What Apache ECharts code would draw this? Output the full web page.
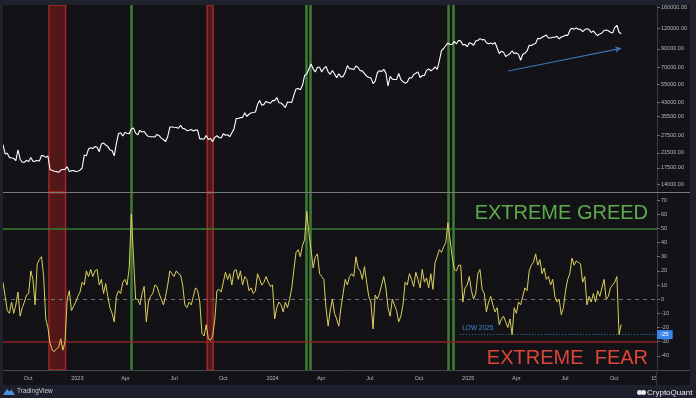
<!DOCTYPE html>
<html><head><meta charset="utf-8">
<script src="https://cdn.jsdelivr.net/npm/echarts@6/dist/echarts.min.js"></script>
<style>html,body{margin:0;padding:0;background:#131317;}#c{width:696px;height:398px;}</style>
</head><body><div id="c"></div>
<script>
// ---- data (sampled every 4 days from 2022-08-15) ----
const startDate = [2022, 7, 15];
const stepDays = 4;
const btcPrice = [
24100,21200,21400,20200,20050,19950,19300,22400,19700,18900,
18900,19400,19050,20150,19130,19180,19330,19200,20750,20630,
20200,20600,17050,16900,16700,16600,16450,16960,17100,17130,
17780,16630,16830,16840,16630,16680,16950,17450,20880,20680,
22700,23070,22840,23430,23250,21860,24330,24640,23940,23500,
22360,22200,20630,24400,28040,28330,27140,28480,28170,27950,
29900,30310,28250,27520,29330,28680,28850,27630,26920,26820,
26850,26720,27700,27250,26340,25850,25120,26840,30690,30690,
30590,30510,30170,31470,30140,29910,29180,29360,29700,29070,
29430,29400,26050,26100,26000,27300,25870,26250,25160,26600,
27210,26580,26350,27990,27410,27590,26860,28400,29920,34500,
34530,34940,35050,37320,35550,36600,37300,37450,37720,41980,
44170,41450,41930,43650,43010,42580,44180,44150,46100,42850,
42740,41580,40080,43300,43190,43090,47750,51820,52140,51300,
54500,62400,63800,68300,73100,68400,65500,69950,69900,65450,
68900,70600,65660,63470,66840,63750,60600,63890,61190,61450,
65200,71450,68500,68350,67750,71080,69650,66750,66490,64100,
61800,60970,60200,55850,57700,64800,66700,65900,67900,64600,
54000,61700,59350,59000,59000,64150,59000,57300,56150,57000,
60500,60300,63350,64300,65600,60700,62300,62450,67000,68400,
66600,67900,70200,67800,76500,88000,90500,94300,97900,95600,
95900,99900,96600,101400,100200,95100,95800,92800,98100,96900,
94700,100500,101100,103700,102000,102400,98000,96500,97800,96100,
98300,91400,84400,87200,86100,81000,82600,84200,87500,84400,
85200,83500,77000,83600,84900,87500,94700,94300,95900,97000,
104100,103600,105600,107300,108900,104600,104700,105700,105700,107000,
103300,106000,107300,108800,108200,116000,119800,117900,119900,118000,
117800,114200,117500,119000,117400,112900,115400,111200,108200,110700,
112100,116000,116800,115700,113300,112100,120600,124700,113200,111000
];
const sentiment = [
12,2,-8,-10,-2,-10,-4,5,-12,-6,
-2,3,4,20,14,-4,25,28,30,16,
-14,-20,-31,-36,-37,-35,-34,-28,-36,-30,
0,6,-8,-5,-2,2,5,12,10,20,
16,21,16,20,21,10,14,4,11,2,
-6,-10,-16,2,6,4,12,14,10,22,
60,30,0,0,-4,4,9,-16,-2,2,
4,10,9,4,0,-4,2,10,20,18,
16,20,18,17,10,-4,-6,-2,-4,2,
8,6,-2,-24,-26,-18,-28,-29,-26,-15,
6,7,5,12,19,14,18,10,20,21,
14,20,10,16,14,6,8,4,6,18,
14,10,12,16,12,9,10,-14,-6,-2,
-4,-9,-2,-6,0,8,21,33,35,30,
38,42,62,47,35,22,30,32,18,16,
14,-6,-19,-8,0,-10,-14,-19,-6,4,
14,10,16,18,16,30,22,20,14,23,
12,2,-2,-21,3,0,4,10,16,8,
-6,-12,0,-4,-8,-16,-12,-4,12,10,
18,14,9,19,14,8,21,12,15,8,
18,7,26,30,35,33,37,40,54,42,
30,21,20,24,24,-2,8,10,16,6,
0,4,18,21,7,4,-9,-2,2,-4,
-9,-6,-18,-14,-12,-16,-20,-14,-25,-6,
-10,-2,-4,2,8,6,20,24,26,32,
24,28,18,22,14,16,10,14,2,-2,
0,-11,-6,6,14,18,29,24,27,26,
25,12,16,-4,2,-2,4,-2,6,2,
8,14,0,2,8,10,12,16,-25,-18
];
const priceTicks = [14000,17500,21500,27500,35500,43000,55000,70000,90000,120000,160000];
const sentimentTicks = [-40,-30,-20,-10,0,10,20,30,40,50,60,70];
const xTickDates = ['2022-10-01','2023-01-01','2023-04-01','2023-07-01','2023-10-01','2024-01-01','2024-04-01','2024-07-01','2024-10-01','2025-01-01','2025-04-01','2025-07-01','2025-10-01','2025-12-15'];
const xTickLabels = ['Oct','2023','Apr','Jul','Oct','2024','Apr','Jul','Oct','2025','Apr','Jul','Oct','15'];
const redBands = [['2022-11-09','2022-12-10'],['2023-09-01','2023-09-12']];
const greenLines = ['2023-04-11','2024-03-04','2024-03-12','2024-11-24','2024-12-04'];
const greedLevel = 50, fearLevel = -30, zeroLevel = 0, low2025 = -25;
const lowLineStart = '2024-12-17';
const trendArrow = [['2025-03-17', 66400], ['2025-10-14', 90700]];

// ---- build ----
function d(s){ const [y,m,dd] = s.split('-').map(Number); return new Date(y, m-1, dd).getTime(); }
const dates = btcPrice.map((_, i) => new Date(startDate[0], startDate[1], startDate[2] + stepDays*i).getTime());
const xMin = d('2022-08-15'), xMax = d('2025-12-20');
const xTickTs = xTickDates.map(d);
const FONT = 'Liberation Sans';
const axisLabelColor = '#b4b7bf';

const bandData = redBands.map(b => [{xAxis: d(b[0])}, {xAxis: d(b[1])}]);
const greenData = greenLines.map(g => ({xAxis: d(g)}));
const bandStyle = {color:'rgba(150,30,28,0.48)', borderColor:'rgba(190,45,40,0.8)', borderWidth:1.5};
const greenStyle = {color:'#3f7d35', width:2.5, type:'solid'};

const chart = echarts.init(document.getElementById('c'), null, {renderer:'canvas'});
chart.setOption({
  animation:false,
  backgroundColor:'#131317',
  grid:[
    {left:3, right:39, top:5, height:187},
    {left:3, right:39, top:193, height:177}
  ],
  xAxis:[
    {type:'value', gridIndex:0, min:xMin, max:xMax, show:false},
    {type:'value', gridIndex:1, min:xMin, max:xMax,
      axisLine:{show:false}, axisTick:{show:false}, splitLine:{show:false},
      axisLabel:{customValues:xTickTs, color:axisLabelColor, fontSize:5.5, fontFamily:FONT, margin:5,
        formatter:(v)=>{ let k=-1,best=Infinity; xTickTs.forEach((t,j)=>{const dd=Math.abs(t-v); if(dd<best){best=dd;k=j;}}); return best<86400000*2?xTickLabels[k]:''; }}}
  ],
  yAxis:[
    {type:'log', logBase:10, gridIndex:0, position:'right', min:12540, max:164800,
      axisLine:{show:true, lineStyle:{color:'#363a45'}},
      axisTick:{show:true, length:3, customValues:priceTicks, lineStyle:{color:'#6a6d77'}},
      axisLabel:{customValues:priceTicks, formatter:(v)=>Number(v).toFixed(2), color:axisLabelColor, fontSize:5.5, fontFamily:FONT, margin:4},
      splitLine:{show:false}},
    {type:'value', gridIndex:1, position:'right', min:-50, max:75,
      axisLine:{show:true, lineStyle:{color:'#363a45'}},
      axisTick:{show:true, length:3, customValues:sentimentTicks, lineStyle:{color:'#6a6d77'}},
      axisLabel:{customValues:sentimentTicks, color:axisLabelColor, fontSize:5.5, fontFamily:FONT, margin:4},
      splitLine:{show:false}}
  ],
  series:[
    {type:'line', name:'BTC', xAxisIndex:0, yAxisIndex:0, showSymbol:false, symbol:'none',
      data: dates.map((t,i)=>[t, btcPrice[i]]),
      lineStyle:{color:'#ffffff', width:1.1}, z:5,
      markArea:{silent:true, itemStyle:bandStyle, data:bandData},
      markLine:{silent:true, symbol:'none', label:{show:false},
        data: greenData.map(g=>Object.assign({lineStyle:greenStyle}, g)).concat([
          [{coord:[d(trendArrow[0][0]), trendArrow[0][1]], symbol:'none', lineStyle:{color:'#3d72b3', width:1.2, type:'solid'}},
           {coord:[d(trendArrow[1][0]), trendArrow[1][1]], symbol:'arrow', symbolSize:[5,6]}]
        ])}
    },
    {type:'line', name:'Sentiment', xAxisIndex:1, yAxisIndex:1, showSymbol:false, symbol:'none',
      data: dates.map((t,i)=>[t, sentiment[i]]),
      lineStyle:{color:'#dccf5e', width:1}, z:5, clip:false,
      markArea:{silent:true, itemStyle:bandStyle, data:bandData},
      markLine:{silent:true, symbol:'none', label:{show:false},
        data: greenData.map(g=>Object.assign({lineStyle:greenStyle}, g)).concat([
          {yAxis:greedLevel, lineStyle:{color:'#3d7a35', width:1.5, type:'solid'}},
          {yAxis:fearLevel, lineStyle:{color:'#8d2424', width:1.5, type:'solid'}},
          {yAxis:zeroLevel, lineStyle:{color:'#6e6e72', width:1, type:[4,4]}},
          [{coord:[d(lowLineStart), low2025], lineStyle:{color:'#3a73b8', width:1, type:[1,2]},
             label:{show:true, position:'insideStartTop', formatter:'LOW 2025', color:'#3f86d8', fontSize:6.5, fontFamily:FONT, distance:[2,3]}},
           {coord:[xMax, low2025]}],
          [{coord:[xMax - 86400000, low2025], lineStyle:{color:'rgba(0,0,0,0)', width:1},
             label:{show:true, position:'end', formatter:String(low2025), color:'#ffffff', backgroundColor:'#3a86ee', fontSize:6, fontFamily:FONT, padding:[2,4,1,3], distance:0, opacity:1}},
           {coord:[xMax, low2025]}]
        ])}
    }
  ],
  graphic:[
    {type:'line', silent:true, z:50, shape:{x1:3,y1:192.5,x2:690,y2:192.5}, style:{stroke:'#7a7a7e', lineWidth:1}},
    {type:'line', silent:true, z:50, shape:{x1:3,y1:370.5,x2:690,y2:370.5}, style:{stroke:'#45474f', lineWidth:1}},
    {type:'line', silent:true, z:50, shape:{x1:656.5,y1:370,x2:656.5,y2:385}, style:{stroke:'#363a45', lineWidth:1}},
    {type:'text', silent:true, z:60, style:{text:'EXTREME GREED', x:648, y:213, align:'right', verticalAlign:'middle', fontSize:20, fontFamily:FONT, fill:'#5cab4c'}},
    {type:'text', silent:true, z:60, style:{text:'EXTREME  FEAR', x:648, y:358, align:'right', verticalAlign:'middle', fontSize:20, fontFamily:FONT, fill:'#dc4538'}},
    {type:'rect', silent:true, z:100, shape:{x:0,y:0,width:696,height:5}, style:{fill:'#1f212d'}},
    {type:'rect', silent:true, z:100, shape:{x:0,y:0,width:3,height:398}, style:{fill:'#1f212d'}},
    {type:'rect', silent:true, z:100, shape:{x:690,y:0,width:6,height:398}, style:{fill:'#1f212d'}},
    {type:'rect', silent:true, z:100, shape:{x:0,y:385,width:696,height:13}, style:{fill:'#1d1f2c'}},
    {type:'polygon', silent:true, z:110, shape:{points:[[3,395],[7,389],[9.5,391.5],[11.5,389.5],[15,395]]}, style:{fill:'#4a8fe0'}},
    {type:'text', silent:true, z:110, style:{text:'TradingView', x:17, y:391.5, verticalAlign:'middle', fontSize:6.5, fontFamily:FONT, fill:'#c9ccd4'}},
    {type:'circle', silent:true, z:110, shape:{cx:639.5, cy:392.5, r:2.5}, style:{fill:'#e8e8ec'}},
    {type:'circle', silent:true, z:110, shape:{cx:643.5, cy:392.5, r:2.5}, style:{fill:'#e8e8ec'}},
    {type:'text', silent:true, z:110, style:{text:'CryptoQuant', x:647, y:392.5, verticalAlign:'middle', fontSize:8, fontFamily:FONT, fill:'#e8e8ec'}}
  ]
});
</script>
</body></html>
